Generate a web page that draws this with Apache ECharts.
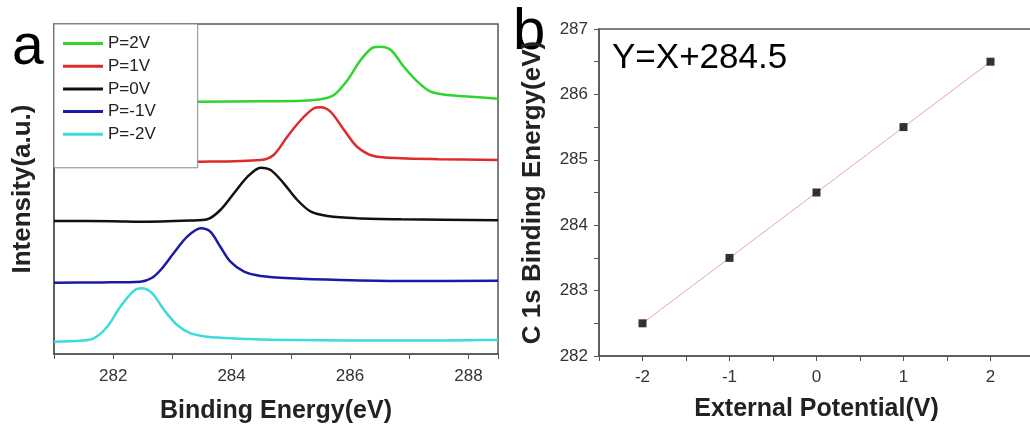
<!DOCTYPE html>
<html>
<head>
<meta charset="utf-8">
<script src="https://cdn.jsdelivr.net/npm/echarts@6/dist/echarts.min.js"></script>
<style>
  html, body { margin: 0; padding: 0; background: #fff; }
  #chart { width: 1030px; height: 425px; }
</style>
</head>
<body>
<div id="chart"></div>
<script>
// ===== panel a: XPS C 1s spectra (intensity in arbitrary units) =====
const legendNames = ['P=2V', 'P=1V', 'P=0V', 'P=-1V', 'P=-2V'];

const eGreen = [281, 282, 283, 283.48, 284.5, 285.2, 285.5, 285.73, 285.96, 286.18, 286.4, 286.52, 286.69, 286.91, 287.14, 287.36, 287.65, 288.04, 288.5];
const iGreen = [252, 252.1, 252.2, 252.3, 252.7, 253.3, 254.7, 259, 274, 294, 306.7, 307.3, 304, 287.3, 272.3, 262.3, 259, 257.3, 255.3];

const eRed = [281, 282, 283, 283.48, 284.49, 284.71, 284.94, 285.17, 285.39, 285.5, 285.67, 285.9, 286.12, 286.4, 286.86, 287.5, 288.5];
const iRed = [191.8, 192, 192.2, 192.3, 194, 199, 217.3, 234, 245.7, 246.7, 242.3, 224, 207.3, 198, 195.7, 194.8, 194];

const eBlack = [281, 282, 282.46, 283.3, 283.59, 283.81, 284.04, 284.27, 284.49, 284.66, 284.88, 285.11, 285.34, 285.62, 286.12, 286.86, 288.5];
const iBlack = [133, 132.8, 132.3, 133.5, 134.7, 144, 160.7, 177.3, 186.3, 184, 170.7, 154, 142.3, 138, 135.7, 134.7, 133.8];

const eBlue = [281, 281.8, 282.46, 282.65, 282.8, 283.02, 283.25, 283.48, 283.64, 283.81, 283.98, 284.21, 284.49, 285, 285.84, 286.86, 288.5];
const iBlue = [71.3, 71.6, 72.3, 76, 84, 100.7, 117.3, 125.7, 122.3, 107.3, 92.3, 82.3, 78, 75.7, 74, 73, 73.3];

const eCyan = [281, 281.45, 281.67, 281.9, 282.12, 282.35, 282.48, 282.66, 282.86, 283.08, 283.31, 283.59, 283.81, 284.4, 285, 286, 287, 288, 288.5];
const iCyan = [12.3, 13.3, 15.7, 27.3, 47.3, 63.3, 65.7, 60.7, 44, 29, 20.7, 17.3, 16.3, 14.7, 14, 13.5, 13.5, 13.8, 14];

// ===== panel b: C 1s binding energy vs external potential =====
const potentials = [-2, -1, 0, 1, 2];
const c1sEnergies = [282.5, 283.5, 284.5, 285.5, 286.5];
const fitX = [-2, 2];
const fitY = [282.5, 286.5];

const COLORS = {
    green: '#2fd52f',
    red: '#dd2a2a',
    black: '#111111',
    blue: '#1a1aa6',
    cyan: '#3ddcdc',
    fit: '#e8a4a4',
    frame: '#555555',
    text: '#222222'
};

const FONT = 'Liberation Sans, Arial, sans-serif';

function zip(xs, ys) { return xs.map((x, i) => [x, ys[i]]); }

function spectrum(name, xs, ys, color) {
    return {
        name: name,
        type: 'line',
        xAxisIndex: 0,
        yAxisIndex: 0,
        data: zip(xs, ys),
        smooth: 0.3,
        showSymbol: false,
        symbol: 'none',
        lineStyle: { width: 2.5, color: color },
        itemStyle: { color: color },
        z: 2
    };
}

const axisLineStyle = { onZero: false, lineStyle: { color: COLORS.frame, width: 1.5 } };

const chart = echarts.init(document.getElementById('chart'), null, { renderer: 'canvas' });

const option = {
    backgroundColor: '#fff',
    animation: false,
    textStyle: { fontFamily: FONT },
    grid: [
        { left: 54, top: 24, right: 532, bottom: 71, outerBoundsMode: 'none', show: true, borderColor: COLORS.frame, borderWidth: 1.5, backgroundColor: 'transparent' },
        { left: 599, top: 29, right: -4, bottom: 69, outerBoundsMode: 'none', show: true, borderColor: COLORS.frame, borderWidth: 1.5, backgroundColor: 'transparent' }
    ],
    legend: {
        data: legendNames,
        orient: 'vertical',
        left: 54,
        top: 24,
        padding: [11, 42, 25, 9],
        itemGap: 5.7,
        itemWidth: 40,
        itemHeight: 3,
        icon: 'rect',
        backgroundColor: '#fff',
        borderColor: '#888',
        borderWidth: 1,
        textStyle: { fontSize: 17, color: COLORS.text, fontFamily: FONT },
        z: 10
    },
    xAxis: [
        {
            type: 'value', gridIndex: 0, min: 281, max: 288.5, interval: 1,
            name: 'Binding Energy(eV)', nameLocation: 'middle', nameGap: 45,
            nameTextStyle: { fontSize: 25, fontWeight: 'bold', color: COLORS.text, fontFamily: FONT },
            axisLine: axisLineStyle,
            axisTick: { show: true, inside: false, length: 5, lineStyle: { color: COLORS.frame } },
            axisLabel: {
                margin: 14, fontSize: 17, color: '#333', fontFamily: FONT,
                formatter: v => (v % 2 === 0 ? String(v) : '')
            },
            splitLine: { show: false }
        },
        {
            type: 'value', gridIndex: 1, min: -2.5, max: 2.5, interval: 0.5,
            name: 'External Potential(V)', nameLocation: 'middle', nameGap: 41,
            nameTextStyle: { fontSize: 25, fontWeight: 'bold', color: COLORS.text, fontFamily: FONT },
            axisLine: axisLineStyle,
            axisTick: { show: true, inside: false, length: 5, lineStyle: { color: COLORS.frame } },
            axisLabel: {
                margin: 13, fontSize: 17, color: '#333', fontFamily: FONT,
                formatter: v => (Number.isInteger(v) ? String(v) : '')
            },
            splitLine: { show: false }
        }
    ],
    yAxis: [
        {
            type: 'value', gridIndex: 0, min: 0, max: 330,
            name: 'Intensity(a.u.)', nameLocation: 'middle', nameGap: 18,
            nameTextStyle: { fontSize: 26, fontWeight: 'bold', color: COLORS.text, fontFamily: FONT },
            axisLine: axisLineStyle,
            axisTick: { show: false },
            axisLabel: { show: false },
            splitLine: { show: false }
        },
        {
            type: 'value', gridIndex: 1, min: 282, max: 287, interval: 0.5,
            name: 'C 1s Binding Energy(eV)', nameLocation: 'middle', nameGap: 53,
            nameTextStyle: { fontSize: 26, fontWeight: 'bold', color: COLORS.text, fontFamily: FONT },
            axisLine: axisLineStyle,
            axisTick: { show: true, inside: false, length: 5, lineStyle: { color: COLORS.frame } },
            axisLabel: {
                margin: 11, fontSize: 17, color: '#333', fontFamily: FONT,
                formatter: v => (Number.isInteger(v) ? String(v) : '')
            },
            splitLine: { show: false }
        }
    ],
    series: [
        spectrum('P=2V', eGreen, iGreen, COLORS.green),
        spectrum('P=1V', eRed, iRed, COLORS.red),
        spectrum('P=0V', eBlack, iBlack, COLORS.black),
        spectrum('P=-1V', eBlue, iBlue, COLORS.blue),
        spectrum('P=-2V', eCyan, iCyan, COLORS.cyan),
        {
            name: 'fit',
            type: 'line',
            xAxisIndex: 1,
            yAxisIndex: 1,
            data: zip(fitX, fitY),
            symbol: 'none',
            lineStyle: { width: 1, color: COLORS.fit },
            z: 2
        },
        {
            name: 'C 1s',
            type: 'scatter',
            xAxisIndex: 1,
            yAxisIndex: 1,
            data: zip(potentials, c1sEnergies),
            symbol: 'rect',
            symbolSize: 8,
            itemStyle: { color: '#000' },
            z: 3
        }
    ],
    graphic: [
        { type: 'text', left: 12, top: 20, style: { text: 'a', fontSize: 57, fontFamily: FONT, fill: '#000' } },
        { type: 'text', left: 513, top: 4, style: { text: 'b', fontSize: 58, fontFamily: FONT, fill: '#000' } },
        { type: 'text', left: 612, top: 41, style: { text: 'Y=X+284.5', fontSize: 35, fontFamily: FONT, fill: '#000' } }
    ]
};

chart.setOption(option);
window.addEventListener('resize', () => chart.resize());
</script>
</body>
</html>
